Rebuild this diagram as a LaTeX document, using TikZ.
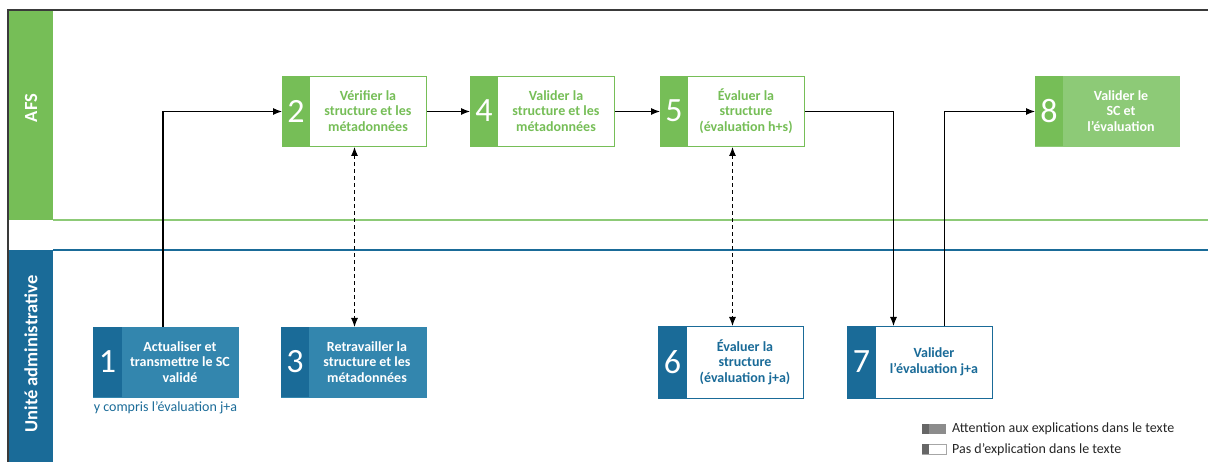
\documentclass[tikz,border=0pt]{standalone}
\usepackage{fontspec}
\setmainfont{Carlito}
\usetikzlibrary{arrows.meta,positioning}
\definecolor{grn}{HTML}{76BE57}
\definecolor{lgrn}{HTML}{8DCA77}
\definecolor{dblue}{HTML}{1A6B98}
\definecolor{lblue}{HTML}{3386AE}
\definecolor{frame}{HTML}{3A3A3A}
\tikzset{
  boxg/.style={draw=grn, line width=1pt, fill=white, minimum width=144pt, minimum height=70pt, anchor=north west, inner sep=0pt},
  boxgf/.style={draw=lgrn, line width=1pt, fill=lgrn, minimum width=144pt, minimum height=70pt, anchor=north west, inner sep=0pt},
  boxb/.style={draw=dblue, line width=1pt, fill=white, minimum width=145pt, minimum height=72pt, anchor=north west, inner sep=0pt},
  boxbf/.style={draw=lblue, line width=1pt, fill=lblue, minimum width=145pt, minimum height=70pt, anchor=north west, inner sep=0pt},
  txt/.style={font=\fontsize{14}{15.5}\selectfont\bfseries, align=center, inner sep=0pt},
  num/.style={font=\fontsize{34}{34}\selectfont, text=white, inner sep=0pt},
  conn/.style={draw=black, line width=1.1pt, -{Latex[length=9pt,width=7pt]}},
  dconn/.style={draw=black, line width=1.1pt, dash pattern=on 4pt off 3pt, {Latex[length=9pt,width=7pt]}-{Latex[length=9pt,width=7pt]}},
  lane/.style={font=\fontsize{18.5}{18.5}\selectfont\bfseries, text=white, rotate=90, inner sep=0pt},
  leg/.style={font=\fontsize{14}{16}\selectfont, anchor=west, inner sep=0pt, text=black!85}
}
\begin{document}
\begin{tikzpicture}[x=1pt,y=-1pt]
\useasboundingbox (0,0) rectangle (1208,462);
% lanes
\fill[grn] (8,10) rectangle (53,220);
\draw[lgrn, line width=1.5pt] (53,220) -- (1208,220);
\fill[dblue] (8,250) rectangle (53,462);
\draw[dblue, line width=1.2pt] (53,250) -- (1208,250);
\draw[frame, line width=1.5pt] (1208,10) -- (8,10) -- (8,462);
\node[lane] (lafs) at (31,108) {AFS};
\node[lane] (lua) at (31,354) {Unité administrative};
% box 2
\node[boxg] (b2) at (282,76) {};
\fill[grn] (b2.north west) rectangle ++(28,70);
\node[num] (n2) at (296,111) {2};
\node[txt, text=grn] (t2) at (368,111) {Vérifier la\\structure et les\\métadonnées};
% box 4
\node[boxg] (b4) at (470,76) {};
\fill[grn] (b4.north west) rectangle ++(28,70);
\node[num] (n4) at (484,111) {4};
\node[txt, text=grn] (t4) at (556,111) {Valider la\\structure et les\\métadonnées};
% box 5
\node[boxg] (b5) at (660,76) {};
\fill[grn] (b5.north west) rectangle ++(28,70);
\node[num] (n5) at (674,111) {5};
\node[txt, text=grn] (t5) at (746,111) {Évaluer la\\structure\\(évaluation h+s)};
% box 8
\node[boxgf] (b8) at (1035,76) {};
\fill[grn] (b8.north west) rectangle ++(28,70);
\node[num] (n8) at (1049,111) {8};
\node[txt, text=white] (t8) at (1121,111) {Valider le\\SC et\\l’évaluation};
% box 1
\node[boxbf] (b1) at (93,327) {};
\fill[dblue] (b1.north west) rectangle ++(29,70);
\node[num] (n1) at (107.5,362) {1};
\node[txt, text=white] (t1) at (180,362) {Actualiser et\\transmettre le SC\\validé};
\node[font=\fontsize{14}{16}\selectfont, text=dblue, inner sep=0pt] (cap1) at (165.5,408) {y compris l’évaluation j+a};
% box 3
\node[boxbf] (b3) at (281,327) {};
\fill[dblue] (b3.north west) rectangle ++(28,70);
\node[num] (n3) at (295,362) {3};
\node[txt, text=white] (t3) at (367,362) {Retravailler la\\structure et les\\métadonnées};
% box 6
\node[boxb] (b6) at (658,326) {};
\fill[dblue] (b6.north west) rectangle ++(29,72);
\node[num] (n6) at (672.5,362) {6};
\node[txt, text=dblue] (t6) at (745,362) {Évaluer la\\structure\\(évaluation j+a)};
% box 7
\node[boxb] (b7) at (847,326) {};
\fill[dblue] (b7.north west) rectangle ++(29,72);
\node[num] (n7) at (861.5,362) {7};
\node[txt, text=dblue] (t7) at (934,362) {Valider\\l’évaluation j+a};
% connectors
\draw[conn] ([xshift=-3pt]b1.north) |- (b2.west);
\draw[conn] (b2.east) -- (b4.west);
\draw[conn] (b4.east) -- (b5.west);
\draw[conn] (b5.east) -| ([xshift=-26.5pt]b7.north);
\draw[conn] ([xshift=24.5pt]b7.north) |- (b8.west);
\draw[dconn] (b2.south) -- (b2.south |- b3.north);
\draw[dconn] (b5.south) -- (b5.south |- b6.north);
% legend
\fill[black!45] (922,424) rectangle (946,434);
\fill[black!60] (922,424) rectangle (929,434);
\draw[black!35, line width=0.6pt, fill=white] (922,444) rectangle (946,454);
\fill[black!60] (922,444) rectangle (929,454);
\node[leg] (l1) at (952,429) {Attention aux explications dans le texte};
\node[leg] (l2) at (952,450) {Pas d’explication dans le texte};
\end{tikzpicture}
\end{document}
